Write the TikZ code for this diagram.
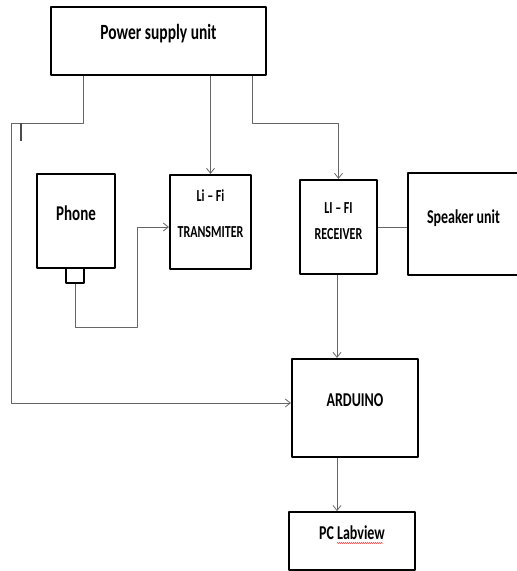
\documentclass[tikz,border=0pt]{standalone}
\usepackage{graphicx}
\usepackage{fontspec}
\setmainfont{Carlito}
\usetikzlibrary{arrows.meta,decorations.pathmorphing}
\newcommand{\tallt}[1]{\scalebox{1}[1.4]{#1}}
\begin{document}
\begin{tikzpicture}[x=1pt,y=-1pt,line join=round,>={Straight Barb[length=5pt,width=8pt]},
	blk/.style={draw,line width=2.2pt,inner sep=0pt},
	wire/.style={draw=black!60,line width=.8pt}]
	\useasboundingbox (0,0) rectangle (517,571);
	% Khối
	\node[blk,minimum width=215pt,minimum height=68pt,text depth=18pt,font=\bfseries\fontsize{15.5}{18}\selectfont] (psu) at (158.5,41) {\tallt{Power supply unit}};
	\node[blk,minimum width=78pt,minimum height=94pt,text depth=16pt,font=\bfseries\fontsize{15}{18}\selectfont] (phone) at (76,221) {\tallt{Phone}};
	\node[blk,line width=1.6pt,minimum width=18pt,minimum height=15pt] (plug) at (75,275.5) {};
	\node[blk,minimum width=81pt,minimum height=94pt,text depth=16pt,align=center,font=\bfseries\fontsize{12}{14}\selectfont] (tx) at (210.5,222) {\tallt{Li – Fi}\\[22pt]\tallt{TRANSMITER}};
	\node[blk,minimum width=77pt,minimum height=94pt,text depth=12pt,align=center,font=\bfseries\fontsize{12}{14}\selectfont] (rx) at (338.5,227) {\tallt{LI – FI}\\[12pt]\tallt{RECEIVER}};
	\node[blk,minimum width=117pt,minimum height=102pt,text depth=14pt,font=\bfseries\fontsize{14}{17}\selectfont] (spk) at (466.5,224) {\tallt{Speaker unit}\hspace*{6pt}};
	\node[blk,minimum width=126pt,minimum height=98pt,text depth=16pt,font=\bfseries\fontsize{14}{17}\selectfont] (ard) at (355,408) {\tallt{ARDUINO}};
	\node[blk,line width=1.8pt,minimum width=126pt,minimum height=58pt,text depth=16pt,font=\bfseries\fontsize{14}{17}\selectfont] (pc) at (352,541) {\tallt{PC Labview}};
	% Đường nối
	\draw[wire,->] (psu.south -| 83,0) -- (83,123) -- (11,123) -- (11,403) -- (ard.west |- 0,403);
	\draw[black!70,line width=2pt] (21,123) -- (21,141);
	\draw[wire,->] (tx.north |- psu.south) -- (tx.north);
	\draw[wire,->] (psu.south -| 252,0) -- (252,123) -| (rx.north);
	\draw[wire,->] (plug.south) |- (137,327) |- (tx.west |- 0,227);
	\draw[wire] (rx.east) -- (rx.east -| spk.west);
	\draw[wire,->] (rx.south -| 337,0) -- (ard.north -| 337,0);
	\draw[wire,->] (ard.south -| 337,0) -- (pc.north -| 337,0);
	\draw[red!70,line width=.5pt,decorate,decoration={snake,segment length=2pt,amplitude=.7pt}] (337,543) -- (383,543);
\end{tikzpicture}
\end{document}
